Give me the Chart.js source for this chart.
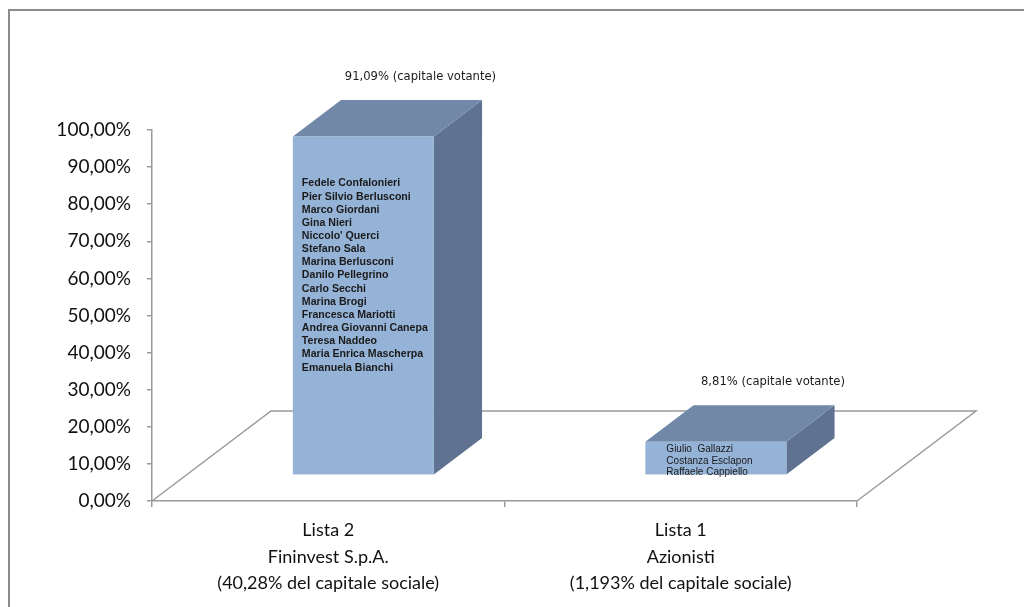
<!DOCTYPE html>
<html>
<head>
<meta charset="utf-8">
<script src="https://cdn.jsdelivr.net/npm/chart.js@4.4.1/dist/chart.umd.min.js"></script>
<style>
  html, body { margin: 0; padding: 0; background: #fff; }
  canvas { display: block; }
</style>
</head>
<body>
<canvas id="listeChart" width="1024" height="607"></canvas>
<script>
// Liste e percentuali di voto
const categories = [
  ["Lista 2", "Fininvest S.p.A.", "(40,28% del capitale sociale)"],
  ["Lista 1", "Azionisti", "(1,193% del capitale sociale)"]
];
const votes = [91.09, 8.81];
const yTicks = [0, 10, 20, 30, 40, 50, 60, 70, 80, 90, 100];

const lista2Names = [
  "Fedele Confalonieri", "Pier Silvio Berlusconi", "Marco Giordani", "Gina Nieri",
  "Niccolo' Querci", "Stefano Sala", "Marina Berlusconi", "Danilo Pellegrino",
  "Carlo Secchi", "Marina Brogi", "Francesca Mariotti", "Andrea Giovanni Canepa",
  "Teresa Naddeo", "Maria Enrica Mascherpa", "Emanuela Bianchi"
];
const lista1Names = ["Giulio  Gallazzi", "Costanza Esclapon", "Raffaele Cappiello"];
const candidates = [lista2Names, lista1Names];

// finto 3D: profondita' del pavimento e posizione delle colonne
const floorDepth = { dx: 119, dy: -90 };
const colFront = 0.295, colBack = 0.70;
const lineGrey = "#9a9a9a";

const pct = v => v.toFixed(2).replace(".", ",") + "%";

const frame = {
  id: "frame",
  beforeDraw(chart) {
    const c = chart.ctx;
    c.save();
    c.strokeStyle = "#8c8c8c";
    c.lineWidth = 2;
    c.beginPath();
    c.moveTo(9, 607);
    c.lineTo(9, 10);
    c.lineTo(1024, 10);
    c.stroke();
    c.restore();
  }
};

const floor3d = {
  id: "floor3d",
  beforeDatasetsDraw(chart) {
    const { ctx: c, scales: { x, y } } = chart;
    const y0 = y.getPixelForValue(0);
    const l = x.left, r = x.right;
    c.save();
    c.strokeStyle = lineGrey;
    c.lineWidth = 1.5;
    c.beginPath();
    c.moveTo(l, y0);
    c.lineTo(l + floorDepth.dx, y0 + floorDepth.dy);
    c.lineTo(r + floorDepth.dx, y0 + floorDepth.dy);
    c.lineTo(r, y0);
    c.stroke();
    c.restore();
  }
};

const columns3d = {
  id: "columns3d",
  afterDatasetsDraw(chart) {
    const { ctx: c, scales: { y } } = chart;
    const meta = chart.getDatasetMeta(0);
    const fx = floorDepth.dx * colFront, fy = floorDepth.dy * colFront;
    const bx = floorDepth.dx * (colBack - colFront), by = floorDepth.dy * (colBack - colFront);
    meta.data.forEach((bar, i) => {
      const w = bar.width;
      const x0 = bar.x - w / 2 + fx, x1 = bar.x + w / 2 + fx;
      const top = y.getPixelForValue(votes[i]) + fy;
      const bottom = y.getPixelForValue(0) + fy;

      c.save();
      // lato
      c.fillStyle = "#5f7291";
      c.beginPath();
      c.moveTo(x1, top); c.lineTo(x1 + bx, top + by);
      c.lineTo(x1 + bx, bottom + by); c.lineTo(x1, bottom);
      c.closePath(); c.fill();
      // tetto
      c.fillStyle = "#7288a9";
      c.beginPath();
      c.moveTo(x0, top); c.lineTo(x0 + bx, top + by);
      c.lineTo(x1 + bx, top + by); c.lineTo(x1, top);
      c.closePath(); c.fill();
      // fronte
      c.fillStyle = "#95b3d7";
      c.fillRect(x0, top, x1 - x0, bottom - top);

      // etichetta del valore
      c.fillStyle = "#1a1a1a";
      c.font = "11.6px 'DejaVu Sans'";
      c.textAlign = "center";
      c.textBaseline = "middle";
      c.fillText(pct(votes[i]) + " (capitale votante)", bar.x + fx + bx / 2 + 33, top + by - 23);

      // nomi dei candidati
      c.textAlign = "left";
      if (i === 0) {
        c.font = "bold 10.6px 'Liberation Sans'";
        candidates[i].forEach((n, k) => c.fillText(n, x0 + 9, top + 47 + k * 13.15));
      } else {
        c.font = "10px 'Liberation Sans'";
        candidates[i].forEach((n, k) => c.fillText(n, x0 + 21, top + 7.5 + k * 11.6));
      }
      c.restore();
    });
  }
};

new Chart(document.getElementById("listeChart"), {
  type: "bar",
  data: {
    labels: categories,
    datasets: [{
      data: votes,
      backgroundColor: "rgba(0,0,0,0)",
      borderWidth: 0,
      barPercentage: 0.4,
      categoryPercentage: 1
    }]
  },
  options: {
    responsive: false,
    animation: false,
    layout: { padding: { top: 130, right: 167, left: 0, bottom: 0 } },
    plugins: { legend: { display: false }, tooltip: { enabled: false } },
    scales: {
      x: {
        afterFit: s => { s.height = 106; },
        border: { color: lineGrey, width: 1.5 },
        grid: { display: true, drawOnChartArea: false, offset: true, tickLength: 6, color: lineGrey, lineWidth: 1.5 },
        ticks: { color: "#111", padding: 10, font: { family: "Lato", size: 18, lineHeight: 1.47 } }
      },
      y: {
        min: 0,
        max: 100,
        afterFit: s => { s.width = 152; },
        afterBuildTicks: s => { s.ticks = yTicks.map(v => ({ value: v })); },
        border: { color: lineGrey, width: 1.5 },
        grid: { display: true, drawOnChartArea: false, tickLength: 5, color: lineGrey, lineWidth: 1.5 },
        ticks: { color: "#111", padding: 16, font: { family: "Lato", size: 19 }, callback: v => pct(v) }
      }
    }
  },
  plugins: [frame, floor3d, columns3d]
});
</script>
</body>
</html>
